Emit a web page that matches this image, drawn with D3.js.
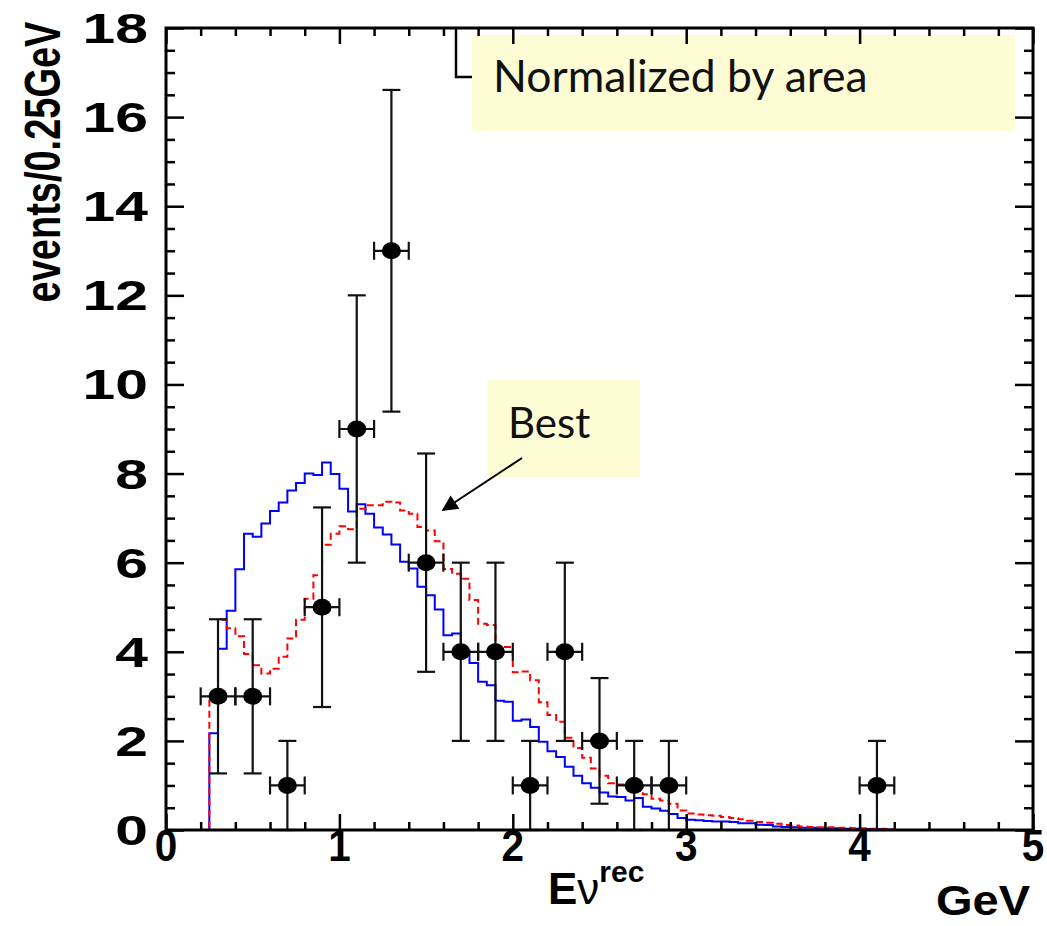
<!DOCTYPE html>
<html>
<head>
<meta charset="utf-8">
<script src="https://cdn.jsdelivr.net/npm/d3@7"></script>
<style>
  html, body { margin: 0; padding: 0; background: #fff; }
  svg { display: block; }
</style>
</head>
<body>
<svg id="chart" width="1047" height="926"></svg>
<script>
// ---------------- DATA ----------------
const binStart = 0.20;
const binWidth = 0.05;
// MC prediction (blue solid), bins of 0.05 GeV starting at 0.20
const blueVals = [
  0, 2.17, 4.07, 4.92, 5.85, 6.65, 6.58, 6.88, 7.16, 7.35,
  7.62, 7.79, 8.00, 7.97, 8.25, 7.99, 7.66, 7.15, 7.31, 7.10,
  6.79, 6.63, 6.41, 6.02, 5.87, 5.46, 5.27, 4.95, 4.37, 4.41,
  4.03, 3.75, 3.33, 3.25, 2.90, 2.88, 2.45, 2.48, 2.31, 1.98,
  1.77, 1.64, 1.42, 1.22, 1.05, 0.95, 0.84, 0.75, 0.74, 0.66,
  0.72, 0.52, 0.48, 0.43, 0.36, 0.27, 0.23, 0.22, 0.20, 0.19,
  0.19, 0.18, 0.15, 0.15, 0.12, 0.11, 0.08, 0.07, 0.06, 0.05,
  0.05, 0.04, 0.04, 0.04, 0.03, 0.03, 0.02, 0.02, 0.02, 0.01
];
// Best-fit prediction (red dashed)
const redVals = [
  0, 2.95, 4.72, 4.53, 4.35, 3.95, 3.70, 3.51, 3.62, 3.89,
  4.30, 4.72, 5.19, 5.72, 6.40, 6.65, 6.82, 6.75, 7.21, 7.29,
  7.29, 7.37, 7.35, 7.17, 7.10, 6.80, 6.72, 6.48, 5.86, 5.75,
  5.64, 5.16, 4.63, 4.60, 4.11, 4.11, 3.54, 3.56, 3.36, 2.87,
  2.58, 2.43, 2.07, 1.84, 1.62, 1.38, 1.22, 1.05, 1.02, 1.00,
  0.98, 0.80, 0.70, 0.66, 0.59, 0.44, 0.37, 0.35, 0.33, 0.32,
  0.29, 0.27, 0.24, 0.21, 0.18, 0.16, 0.14, 0.11, 0.10, 0.08,
  0.07, 0.06, 0.06, 0.05, 0.05, 0.04, 0.04, 0.03, 0.03, 0.02
];
// Data points
const dataX    = [0.3, 0.5, 0.7, 0.9, 1.1, 1.3, 1.5, 1.7, 1.9, 2.1, 2.3, 2.5, 2.7, 2.9, 4.1];
const dataY    = [3, 3, 1, 5, 9, 13, 6, 4, 4, 1, 4, 2, 1, 1, 1];
const dataErrY = [1.73, 1.73, 1, 2.24, 3, 3.61, 2.45, 2, 2, 1, 2, 1.41, 1, 1, 1];
const dataErrX = [0.1, 0.1, 0.1, 0.1, 0.1, 0.1, 0.1, 0.1, 0.1, 0.1, 0.1, 0.1, 0.1, 0.1, 0.1];
// Axis ticks
const xTickLabels = [0, 1, 2, 3, 4, 5];
const yTickLabels = [0, 2, 4, 6, 8, 10, 12, 14, 16, 18];
const xMinorTicks = [0.2,0.4,0.6,0.8,1.2,1.4,1.6,1.8,2.2,2.4,2.6,2.8,3.2,3.4,3.6,3.8,4.2,4.4,4.6,4.8];
const yMinorTicks = [0.5,1,1.5,2.5,3,3.5,4.5,5,5.5,6.5,7,7.5,8.5,9,9.5,10.5,11,11.5,12.5,13,13.5,14.5,15,15.5,16.5,17,17.5];
const yTitle = "events/0.25GeV";
const xTitleUnit = "GeV";
const noteText = "Normalized by area";
const bestText = "Best";

// ---------------- LAYOUT ----------------
const svg = d3.select("#chart");
const L = 166, R = 1033, T = 28, B = 830;
const x = d3.scaleLinear().domain([0, 5]).range([L, R]);
const y = d3.scaleLinear().domain([0, 18]).range([B, T]);

const ink = "#000";

// histograms
function histPoints(vals) {
  const pts = vals.map((v, i) => [binStart + i * binWidth, v]);
  pts.push([binStart + vals.length * binWidth, vals[vals.length - 1]]);
  return pts;
}
const stepLine = d3.line().x(d => x(d[0])).y(d => y(d[1])).curve(d3.curveStepAfter);

svg.append("path").attr("d", stepLine(histPoints(blueVals)))
  .attr("fill", "none").attr("stroke", "#0000ff").attr("stroke-width", 2);
svg.append("path").attr("d", stepLine(histPoints(redVals)))
  .attr("fill", "none").attr("stroke", "#ff0000").attr("stroke-width", 2)
  .attr("stroke-dasharray", "7,4");

// annotation boxes
svg.append("rect").attr("x", 472).attr("y", 35).attr("width", 543).attr("height", 96)
  .attr("fill", "#fefcd5");
svg.append("path").attr("d", "M456,28 V77 H472").attr("fill", "none")
  .attr("stroke", ink).attr("stroke-width", 2.5);
svg.append("text").attr("x", 493).attr("y", 92).text(noteText)
  .attr("font-family", "Lato, 'Open Sans', sans-serif").attr("font-size", 44.5).attr("fill", "#111");

svg.append("rect").attr("x", 487).attr("y", 380).attr("width", 153).attr("height", 97)
  .attr("fill", "#fefcd5");
svg.append("text").attr("x", 508).attr("y", 438).text(bestText)
  .attr("font-family", "Lato, 'Open Sans', sans-serif").attr("font-size", 42).attr("fill", "#111");

// arrow
svg.append("defs").append("marker").attr("id", "ah")
  .attr("viewBox", "0 0 10 10").attr("refX", 9).attr("refY", 5)
  .attr("markerWidth", 20).attr("markerHeight", 16).attr("markerUnits", "userSpaceOnUse")
  .attr("orient", "auto")
  .append("path").attr("d", "M0,0 L10,5 L0,10 z").attr("fill", ink);
svg.append("line").attr("x1", 522).attr("y1", 458).attr("x2", 443).attr("y2", 510)
  .attr("stroke", ink).attr("stroke-width", 2).attr("marker-end", "url(#ah)");

// data points with error bars
const pts = svg.append("g");
dataX.forEach((xv, i) => {
  const cx = x(xv), cy = y(dataY[i]);
  const y0 = y(dataY[i] - dataErrY[i]), y1 = y(dataY[i] + dataErrY[i]);
  const x0 = x(xv - dataErrX[i]), x1 = x(xv + dataErrX[i]);
  const g = pts.append("g").attr("stroke", "#111").attr("stroke-width", 2.2);
  g.append("line").attr("x1", cx).attr("x2", cx).attr("y1", y0).attr("y2", y1);
  g.append("line").attr("x1", cx - 9).attr("x2", cx + 9).attr("y1", y0).attr("y2", y0);
  g.append("line").attr("x1", cx - 9).attr("x2", cx + 9).attr("y1", y1).attr("y2", y1);
  g.append("line").attr("x1", x0).attr("x2", x1).attr("y1", cy).attr("y2", cy);
  g.append("line").attr("x1", x0).attr("x2", x0).attr("y1", cy - 9).attr("y2", cy + 9);
  g.append("line").attr("x1", x1).attr("x2", x1).attr("y1", cy - 9).attr("y2", cy + 9);
  pts.append("ellipse").attr("cx", cx).attr("cy", cy).attr("rx", 9.5).attr("ry", 8.5).attr("fill", "#000");
});

// axes ticks (inward on all four sides)
function ticks(axisGen, tr, vals, size) {
  const g = svg.append("g").attr("transform", tr)
    .call(axisGen.tickValues(vals).tickSize(-size).tickFormat(""));
  g.select(".domain").remove();
  g.selectAll(".tick line").attr("stroke", ink).attr("stroke-width", 2.5);
}
ticks(d3.axisBottom(x), `translate(0,${B})`, xMinorTicks, 8);
ticks(d3.axisBottom(x), `translate(0,${B})`, xTickLabels, 16);
ticks(d3.axisTop(x), `translate(0,${T})`, xMinorTicks, 8);
ticks(d3.axisTop(x), `translate(0,${T})`, xTickLabels, 16);
ticks(d3.axisLeft(y), `translate(${L},0)`, yMinorTicks, 9);
ticks(d3.axisLeft(y), `translate(${L},0)`, yTickLabels, 18);
ticks(d3.axisRight(y), `translate(${R},0)`, yMinorTicks, 9);
ticks(d3.axisRight(y), `translate(${R},0)`, yTickLabels, 18);

// frame
svg.append("rect").attr("x", L).attr("y", T).attr("width", R - L).attr("height", B - T)
  .attr("fill", "none").attr("stroke", ink).attr("stroke-width", 3);

// tick labels
const bold = "'Liberation Sans', Arial, Helvetica, sans-serif";
svg.append("g").selectAll("text").data(yTickLabels).join("text")
  .attr("transform", d => `translate(148,${y(d) + 15}) scale(1.4,1)`)
  .attr("text-anchor", "end").attr("font-family", bold).attr("font-weight", "bold")
  .attr("font-size", 42).attr("fill", ink).text(d => d);
svg.append("g").selectAll("text").data(xTickLabels).join("text")
  .attr("transform", d => `translate(${x(d)},861) scale(0.9,1)`)
  .attr("text-anchor", "middle").attr("font-family", bold).attr("font-weight", "bold")
  .attr("font-size", 45).attr("fill", ink).text(d => d);

// axis titles
svg.append("text").attr("transform", "translate(60,162) scale(1.3,1) rotate(-90)")
  .attr("text-anchor", "middle").attr("font-family", bold).attr("font-weight", "bold")
  .attr("font-size", 38).attr("fill", ink).text(yTitle);

const xt = svg.append("text").attr("x", 548).attr("y", 904)
  .attr("font-family", bold).attr("font-weight", "bold").attr("font-size", 44).attr("fill", ink);
xt.append("tspan").text("E");
xt.append("tspan").attr("font-weight", "normal").text("\u03bd");
xt.append("tspan").attr("font-size", 30).attr("dy", -22).text("rec");

svg.append("text").attr("transform", "translate(1030,915) scale(1.12,1)").attr("text-anchor", "end")
  .attr("font-family", bold).attr("font-weight", "bold").attr("font-size", 42).attr("fill", ink)
  .text(xTitleUnit);
</script>
</body>
</html>
